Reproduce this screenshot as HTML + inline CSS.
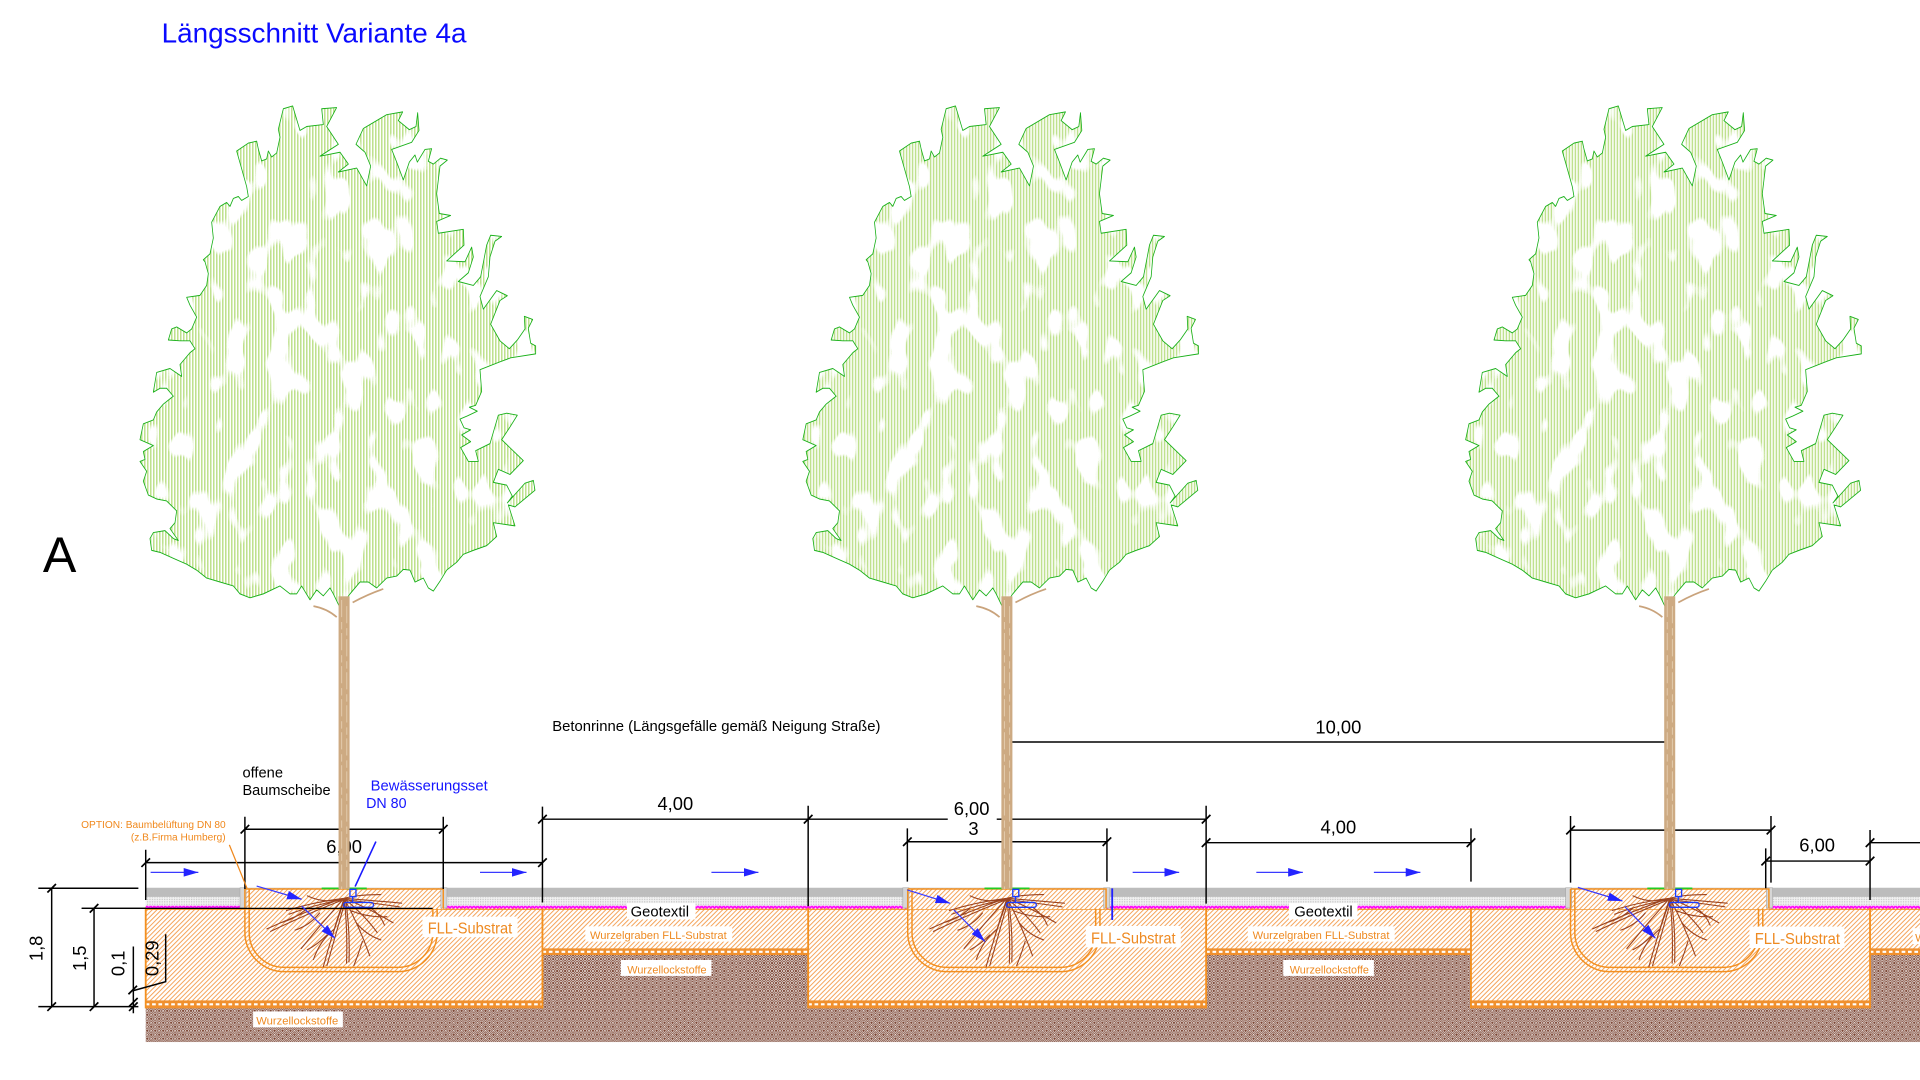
<!DOCTYPE html>
<html><head><meta charset="utf-8"><style>
html,body{margin:0;padding:0;background:#fff;}
svg{display:block;}
text{font-family:"Liberation Sans",Arial,sans-serif;}
</style></head><body>
<svg xmlns="http://www.w3.org/2000/svg" xmlns:xlink="http://www.w3.org/1999/xlink" width="1920" height="1080" viewBox="0 0 1568 882">
<defs>
 <pattern id="hatch" patternUnits="userSpaceOnUse" width="2.7" height="10" patternTransform="rotate(45)">
  <rect width="2.7" height="10" fill="#fff"/>
  <rect x="0" width="0.8" height="10" fill="#f4a258"/>
 </pattern>
 <pattern id="brown" patternUnits="userSpaceOnUse" width="6.5" height="6.5">
  <rect width="6.5" height="6.5" fill="#7a4331"/>
  <g transform="scale(0.8125)">
  <path d="M0,2L2,0M0,4L4,0M2,4L4,2M4,0L8,4M6,0L8,2M4,2L6,4M0,4L4,8M2,4L4,6M0,6L2,8M4,8L8,4M4,6L6,4M6,8L8,6" stroke="#fff" stroke-width="0.55"/>
  </g>
 </pattern>
 <pattern id="zig" patternUnits="userSpaceOnUse" width="3" height="3" x="0" y="739.3">
  <path d="M0,0.7 L1.5,2.3 L3,0.7" fill="none" stroke="#ff00ff" stroke-width="1.4"/>
 </pattern>
 <pattern id="dots" patternUnits="userSpaceOnUse" width="2" height="2">
  <rect width="2" height="2" fill="#f3f3f3"/>
  <rect width="1" height="1" fill="#c4c4c4"/>
 </pattern>
 <pattern id="leaf" patternUnits="userSpaceOnUse" width="9" height="40">
  <rect width="9" height="40" fill="#fff"/>
  <rect width="4.6" height="40" fill="#bfe18e"/>
 </pattern>
 <filter id="noise" x="0" y="0" width="1" height="1" filterUnits="objectBoundingBox">
  <feTurbulence type="fractalNoise" baseFrequency="0.05 0.028" numOctaves="2" seed="7"/>
  <feColorMatrix type="matrix" values="0 0 0 0 1  0 0 0 0 1  0 0 0 0 1  14 0 0 0 -7.7"/>
 </filter>
 <marker id="ah" markerUnits="userSpaceOnUse" markerWidth="12" markerHeight="8" refX="12" refY="4" orient="auto">
  <path d="M0,0.5 L12,4 L0,7.5 Z" fill="#2424ff"/>
 </marker>
 <polygon id="crown" stroke-linejoin="round" points="490,275 518,268 540,330 560,320 610,315 605,275 650,272 620,320 655,365 600,395 660,385 685,415 655,435 710,425 740,470 752,420 735,385 708,365 730,325 800,290 848,283 835,305 868,328 888,320 893,285 897,330 875,360 815,378 830,410 850,455 868,410 885,392 892,410 915,378 935,376 925,408 940,415 962,400 982,405 960,420 950,490 958,540 992,545 950,560 955,590 1030,580 1032,620 980,660 1035,662 1055,625 1060,650 1045,690 1015,712 1060,722 1082,700 1100,620 1112,595 1145,598 1125,610 1110,650 1105,700 1080,750 1090,782 1130,735 1162,748 1140,760 1112,820 1140,862 1168,882 1192,860 1215,832 1213,800 1238,808 1225,830 1232,868 1247,875 1247,895 1172,905 1140,915 1080,935 1085,990 1067,1025 1048,1030 1072,1040 1042,1052 1020,1060 1032,1082 1052,1087 1025,1100 1052,1117 1022,1132 1045,1167 1075,1167 1067,1140 1110,1122 1135,1050 1160,1045 1192,1050 1170,1080 1145,1112 1210,1165 1170,1200 1135,1187 1120,1220 1160,1227 1177,1255 1162,1272 1215,1222 1240,1215 1245,1240 1185,1282 1165,1277 1185,1330 1120,1322 1130,1357 1100,1380 1060,1392 1030,1402 1010,1422 980,1442 960,1470 940,1495 925,1487 910,1462 885,1472 870,1442 850,1440 830,1457 800,1462 770,1487 745,1472 720,1472 690,1502 660,1537 640,1502 630,1487 610,1507 590,1492 570,1517 545,1482 530,1502 510,1502 480,1482 430,1502 390,1512 360,1502 340,1482 300,1472 260,1462 230,1442 200,1427 160,1412 120,1397 95,1392 90,1362 100,1347 135,1342 160,1362 175,1367 150,1337 165,1322 170,1292 140,1267 110,1262 85,1252 70,1217 80,1192 60,1167 75,1162 70,1142 100,1127 60,1112 70,1072 100,1062 110,1042 130,1022 160,1002 140,982 120,982 100,992 110,942 150,932 185,952 180,922 210,892 225,882 210,862 180,862 145,860 155,832 170,827 200,842 215,832 230,802 210,772 200,752 240,747 260,722 265,692 255,662 250,657 270,642 280,602 275,562 300,522 320,512 330,522 340,502 355,497 365,507 385,497 380,472 370,442 360,412 350,382 385,362 410,357 415,377 425,407 440,402 445,382 455,397 470,387 480,347 475,327"/>
 <clipPath id="cc" clipPathUnits="userSpaceOnUse">
  <use xlink:href="#crown" href="#crown" transform="translate(98,0) scale(0.27222,0.3229)"/>
 </clipPath>
 <g id="blobs" clip-path="url(#cc)">
  <rect x="105" y="80" width="340" height="420" fill="#fff" filter="url(#noise)"/>
 </g>
 <g id="roots" fill="none" stroke="#9a4320" stroke-width="0.9" stroke-linecap="round">
  <path d="M0,0 Q-25,8 -63,25 M0,1 Q-24,10 -60,27 M0,0 Q-18,20 -35,41 M0,2 Q-10,30 -17,56 M1,2 Q-7,30 -14,55 M0,0 Q3,25 2,53 M1,0 Q5,25 4,52 M0,0 Q12,22 21,47 M0,0 Q18,15 27,28 M0,0 Q20,8 40,20 M0,0 Q25,2 47,4 M0,1 Q25,4 45,7 M0,0 Q-25,3 -47,10 M0,1 Q-24,5 -45,13 M0,0 Q-6,18 -11,35 M0,0 Q-15,5 -30,-2 M0,0 Q12,-3 30,-3 M-20,12 Q-28,22 -40,26 M-8,25 Q-20,35 -25,50 M10,20 Q18,30 30,34 M5,10 Q20,16 35,15 M-30,8 Q-40,17 -52,20 M15,35 Q12,45 8,55 M-14,30 Q-22,38 -30,42 M22,8 Q30,14 33,22"/>
 </g>
 <g id="pit">
  <rect x="-81" y="725.5" width="162" height="17" fill="url(#hatch)"/>
  <rect x="-85" y="725" width="5" height="16.5" fill="#d6d6d6" stroke="#a8a8a8" stroke-width="0.5"/>
  <rect x="79" y="725" width="5" height="16.5" fill="#d6d6d6" stroke="#a8a8a8" stroke-width="0.5"/>
  <g fill="none" stroke="#f39020" stroke-width="1.2">
   <path d="M-81,726 V761.5 A32,32 0 0 0 -49,793.5 H44 A32,32 0 0 0 76,761.5 V742"/>
   <path d="M-77.5,726 V761.5 A28.5,28.5 0 0 0 -49,790 H44 A28.5,28.5 0 0 0 72.5,761.5 V742"/>
   <path d="M-81,726 H81 V742"/>
  </g>
  <use xlink:href="#roots" href="#roots" transform="translate(0,733.6)"/>
  <path d="M-18.3,725.5 H-3.3 M2,725.5 H18.5" stroke="#22cc22" stroke-width="1.5"/>
  <g fill="none" stroke="#1a3cff" stroke-width="1.1">
   <rect x="4.8" y="726.3" width="4.9" height="6"/>
   <path d="M7,732.3 V737"/>
   <rect x="-0.4" y="737" width="24.4" height="4" rx="2"/>
  </g>
 </g>
</defs>

<rect width="1568" height="882" fill="#fff"/>

<text x="132" y="34.9" font-size="22.6" fill="#0a0aff" textLength="249" lengthAdjust="spacingAndGlyphs">Längsschnitt Variante 4a</text>
<text x="35" y="467" font-size="41" fill="#000">A</text>

<!-- crowns -->
<g fill="url(#leaf)" stroke="none">
 <use xlink:href="#crown" href="#crown" transform="translate(98,0) scale(0.27222,0.3229)"/>
 <use xlink:href="#crown" href="#crown" transform="translate(639.3,0) scale(0.27222,0.3229)"/>
 <use xlink:href="#crown" href="#crown" transform="translate(1180.6,0) scale(0.27222,0.3229)"/>
</g>
<use xlink:href="#blobs" href="#blobs"/>
<use xlink:href="#blobs" href="#blobs" transform="translate(541.3,0)"/>
<use xlink:href="#blobs" href="#blobs" transform="translate(1082.6,0)"/>
<g fill="none" stroke="#18b018" stroke-width="2.4">
 <use xlink:href="#crown" href="#crown" vector-effect="non-scaling-stroke" transform="translate(98,0) scale(0.27222,0.3229)"/>
 <use xlink:href="#crown" href="#crown" vector-effect="non-scaling-stroke" transform="translate(639.3,0) scale(0.27222,0.3229)"/>
 <use xlink:href="#crown" href="#crown" vector-effect="non-scaling-stroke" transform="translate(1180.6,0) scale(0.27222,0.3229)"/>
</g>

<!-- ground -->
<rect x="119" y="774" width="1449" height="77" fill="url(#brown)"/>
<rect x="119" y="741" width="1449" height="34" fill="url(#hatch)"/>
<rect x="119" y="741" width="324" height="77" fill="url(#hatch)"/>
<rect x="660" y="741" width="325" height="77" fill="url(#hatch)"/>
<rect x="1201.3" y="741" width="326" height="77" fill="url(#hatch)"/>
<g fill="#f0902e">
 <rect x="443" y="774.5" width="217" height="5.5"/>
 <rect x="985" y="774.5" width="216.3" height="5.5"/>
 <rect x="1527.2" y="774.5" width="41" height="5.5"/>
 <rect x="119" y="817" width="324" height="6.5"/>
 <rect x="660" y="817" width="325" height="6.5"/>
 <rect x="1201.3" y="817" width="326" height="6.5"/>
</g>
<g stroke="#fff" stroke-width="1.8" stroke-dasharray="3 2.2">
 <path d="M443,777.3H660 M985,777.3H1201 M1527,777.3H1568 M119,820.2H443 M660,820.2H985 M1201,820.2H1527"/>
</g>
<g stroke="#f39020" stroke-width="1.5" fill="none">
 <path d="M119,741V823.5 M443,741V823.5 M660,741V823.5 M985,741V823.5 M1201.3,741V823.5 M1527.2,741V823.5"/>
</g>
<!-- road -->
<rect x="119" y="725" width="1449" height="7.5" fill="#bcbcbc"/>
<rect x="119" y="732.5" width="1449" height="7.5" fill="url(#dots)"/>
<rect x="119" y="739.3" width="1449" height="3" fill="url(#zig)"/>
<path d="M119,742.6H1568" stroke="#f39020" stroke-width="0.9"/>

<!-- pits -->
<use xlink:href="#pit" href="#pit" transform="translate(281,0)"/>
<use xlink:href="#pit" href="#pit" transform="translate(822.3,0)"/>
<use xlink:href="#pit" href="#pit" transform="translate(1363.6,0)"/>
<path d="M66.7,741.8H353.3" stroke="#000" stroke-width="1"/>
<path d="M908.3,725.5V751.3" stroke="#2020ff" stroke-width="1.5"/>

<!-- arrows -->
<g stroke="#3a3aff" stroke-width="1" marker-end="url(#ah)">
 <path d="M123,712.4H162"/><path d="M392,712.4H430"/><path d="M581,712.4H619.4"/>
 <path d="M925,712.4H963"/><path d="M1026,712.4H1064"/><path d="M1122,712.4H1160"/>
 <path d="M209.6,723.6L246.4,734.4"/><path d="M246.4,740L273.6,766.3"/>
 <path d="M741,726.8L776,737.7"/><path d="M779,743L804.4,769"/>
 <path d="M1288.6,724.7L1325,735.8"/><path d="M1327,740.5L1352,766.3"/>
</g>

<!-- labels in ground -->
<g fill="#fff">
 <rect x="512" y="737.6" width="56" height="13.3"/>
 <rect x="1052.6" y="737.6" width="56" height="13.3"/>
 <rect x="478" y="756.5" width="120" height="12.5"/>
 <rect x="1019" y="756.5" width="120" height="12.5"/>
 <rect x="507" y="784" width="74" height="13"/>
 <rect x="1048" y="784" width="74" height="13"/>
 <rect x="206.7" y="826" width="73.3" height="13"/>
 <rect x="345" y="748.6" width="77.7" height="16.8"/>
 <rect x="886.7" y="756.2" width="77.6" height="17.5"/>
 <rect x="1428.7" y="756.7" width="77.6" height="17.5"/>
 <rect x="1562" y="758" width="10" height="13"/>
</g>
<g fill="#000" font-size="12">
 <text x="515" y="748.6" textLength="47.7" lengthAdjust="spacingAndGlyphs">Geotextil</text>
 <text x="1057" y="748.6" textLength="47.7" lengthAdjust="spacingAndGlyphs">Geotextil</text>
</g>
<g fill="#ee8a22" font-size="9.1">
 <text x="481.8" y="767" textLength="111.7" lengthAdjust="spacingAndGlyphs">Wurzelgraben FLL-Substrat</text>
 <text x="1023" y="767" textLength="111.7" lengthAdjust="spacingAndGlyphs">Wurzelgraben FLL-Substrat</text>
 <text x="1564" y="769">Wurzelgraben FLL-Substrat</text>
 <text x="512.3" y="794.9" font-size="8.8" textLength="64.7" lengthAdjust="spacingAndGlyphs">Wurzellockstoffe</text>
 <text x="1053.3" y="794.9" font-size="8.8" textLength="64.7" lengthAdjust="spacingAndGlyphs">Wurzellockstoffe</text>
 <text x="209.3" y="836.5" font-size="8.8" textLength="67" lengthAdjust="spacingAndGlyphs">Wurzellockstoffe</text>
</g>
<g fill="#ee8a22" font-size="12.8">
 <text x="349.3" y="762.2" textLength="69" lengthAdjust="spacingAndGlyphs">FLL-Substrat</text>
 <text x="891" y="770.4" textLength="69" lengthAdjust="spacingAndGlyphs">FLL-Substrat</text>
 <text x="1433" y="771" textLength="69.6" lengthAdjust="spacingAndGlyphs">FLL-Substrat</text>
</g>

<!-- dimensions -->
<g stroke="#000" stroke-width="1.2" fill="none">
 <path d="M822,606H1364 M443,669H774 M814,669H985 M741,687.4H904 M985,688.2H1201.3 M1282.6,677.9H1446.3 M1442,703.2H1527.2 M1527.2,688.2H1568 M200,677.2H362 M119,704.5H443"/>
 <path d="M443,658.7V737 M660,658V740 M985,658V738 M741,676.5V720 M904,676.5V720 M1201.3,676.5V720 M1282.6,666.4V720.8 M1446.3,666.4V720.8 M1442,692.8V725.4 M1527.2,677.8V735 M200,667V726 M362,667V726 M119,694V735 M822,598V612 M1364,598V612"/>
 <path d="M42.2,725.4V822.1 M31.3,725.4H113 M31.3,822.1H113 M76.8,741.8V822.1 M66.7,741.8H119 M108.9,773V827.5 M135.3,763V801.7L108.9,809"/>
 <path stroke-width="1.4" d="M818.5,609.5l7,-7 M1360.5,609.5l7,-7 M439.5,672.5l7,-7 M656.5,672.5l7,-7 M981.5,672.5l7,-7 M737.5,690.9l7,-7 M900.5,690.9l7,-7 M981.5,691.7l7,-7 M1197.8,691.7l7,-7 M1279.1,681.4l7,-7 M1442.8,681.4l7,-7 M1438.5,706.7l7,-7 M1523.7,706.7l7,-7 M1523.7,691.7l7,-7 M196.5,680.7l7,-7 M358.5,680.7l7,-7 M115.5,708l7,-7 M439.5,708l7,-7 M38.7,728.9l7,-7 M38.7,825.6l7,-7 M73.3,745.3l7,-7 M73.3,825.6l7,-7 M105.4,822l7,-7 M105.4,825.6l7,-7 M104.9,812l7,-7"/>
</g>
<g fill="#000" font-size="15" text-anchor="middle">
 <text x="1093" y="599">10,00</text>
 <text x="551.5" y="661.5">4,00</text>
 <text x="793.5" y="665.5">6,00</text>
 <text x="795" y="682">3</text>
 <text x="1093" y="680.6">4,00</text>
 <text x="1484" y="695.5">6,00</text>
 <text x="281" y="696.8">6,00</text>
 <text transform="translate(34.8,774.5) rotate(-90)">1,8</text>
 <text transform="translate(70.2,782.6) rotate(-90)">1,5</text>
 <text transform="translate(101.5,786.7) rotate(-90)">0,1</text>
 <text transform="translate(129.3,782.6) rotate(-90)">0,29</text>
</g>

<text x="451" y="597" font-size="12.1" fill="#000" textLength="268" lengthAdjust="spacingAndGlyphs">Betonrinne (Längsgefälle gemäß Neigung Straße)</text>
<text x="198" y="634.8" font-size="12" fill="#000">offene</text>
<text x="198" y="649.2" font-size="12" fill="#000" textLength="72" lengthAdjust="spacingAndGlyphs">Baumscheibe</text>
<text x="302.7" y="645.7" font-size="12" fill="#1414ff" textLength="95.6" lengthAdjust="spacingAndGlyphs">Bewässerungsset</text>
<text x="299" y="660" font-size="12" fill="#1414ff" textLength="33" lengthAdjust="spacingAndGlyphs">DN 80</text>
<text x="184.3" y="676.4" font-size="8.3" fill="#f0881c" text-anchor="end">OPTION: Baumbelüftung DN 80</text>
<text x="184.3" y="686.5" font-size="8.3" fill="#f0881c" text-anchor="end">(z.B.Firma Humberg)</text>
<path d="M187.3,690L201.7,725.4" stroke="#f0881c" stroke-width="1"/>

<!-- trunks -->
<g id="trunks">
 <g transform="translate(281,0)">
  <rect x="-4.5" y="487" width="9" height="239" fill="#cdaa82"/>
  <path d="M-2,490V726 M2.2,495V726" stroke="#e3cbad" stroke-width="0.8" stroke-dasharray="14 4 6 3"/>
  <path d="M-25,495 Q-14,497 -6,504 M7,492 Q20,485 32,481" stroke="#c9a37c" stroke-width="1.4" fill="none"/>
 </g>
 <g transform="translate(822.3,0)">
  <rect x="-4.5" y="487" width="9" height="239" fill="#cdaa82"/>
  <path d="M-2,490V726 M2.2,495V726" stroke="#e3cbad" stroke-width="0.8" stroke-dasharray="14 4 6 3"/>
  <path d="M-25,495 Q-14,497 -6,504 M7,492 Q20,485 32,481" stroke="#c9a37c" stroke-width="1.4" fill="none"/>
 </g>
 <g transform="translate(1363.6,0)">
  <rect x="-4.5" y="487" width="9" height="239" fill="#cdaa82"/>
  <path d="M-2,490V726 M2.2,495V726" stroke="#e3cbad" stroke-width="0.8" stroke-dasharray="14 4 6 3"/>
  <path d="M-25,495 Q-14,497 -6,504 M7,492 Q20,485 32,481" stroke="#c9a37c" stroke-width="1.4" fill="none"/>
 </g>
</g>
<path d="M307,687.3L290,724" stroke="#1a1aff" stroke-width="1.3"/>
</svg>
</body></html>
